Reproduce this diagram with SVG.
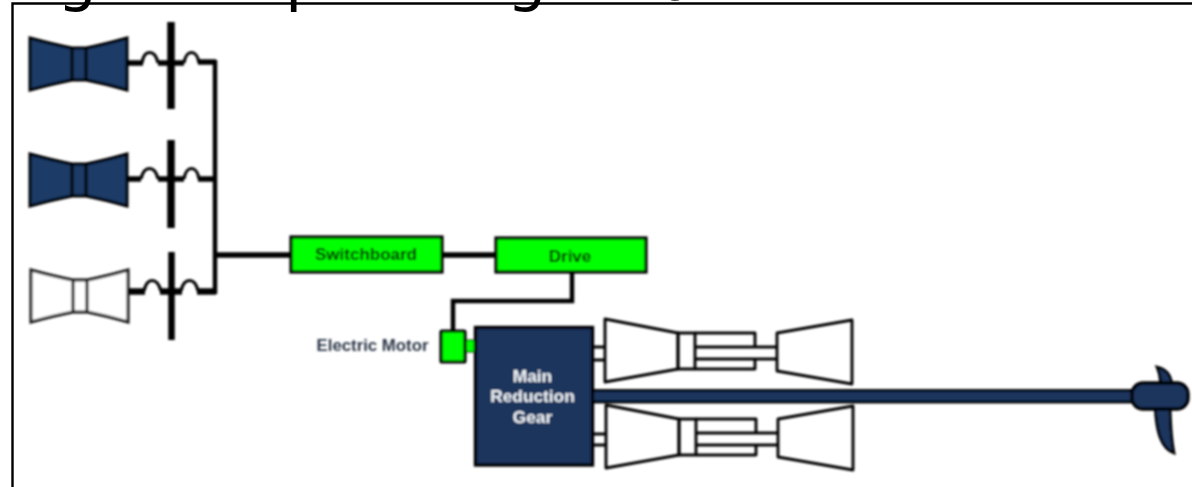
<svg xmlns="http://www.w3.org/2000/svg" width="1192" height="487" viewBox="0 0 1192 487">
<defs>
<filter id="soft" x="-2%" y="-2%" width="104%" height="104%"><feGaussianBlur stdDeviation="0.8"/></filter>
<g id="turbine"><path d="M0 0Q24 6.500 42 10H56Q74 6.500 97 0V52Q74 45.500 56 42H42Q24 45.500 0 52Z"/><path d="M42 10V42M56 10V42" class="waist"/></g>
<g id="gt"><path d="M0 0L73 14V50L0 63Z"/><path d="M73 14H90V50H73Z"/><path d="M90 14H150V28M150 40V50H90"/><path d="M90 28H172M90 40H172"/><path d="M172 14L247 1V65L172 52Z"/></g>
</defs>
<style>
.title{font-family:"DejaVu Sans",sans-serif;font-size:62px;fill:#000}
.lbl{font-family:"Liberation Sans",Arial,sans-serif;font-weight:700;text-anchor:middle}
.wire{fill:none;stroke:#000;stroke-width:4.500}
.thick{fill:none;stroke:#000;stroke-width:5.500}
.hump{fill:none;stroke:#000;stroke-width:3.200}
.bus{stroke:#000;stroke-width:7.500;fill:none}
.tb{fill:#1a3a66;stroke:#000;stroke-width:3}
.tb .waist{fill:none;stroke-width:3.800}
.tw{fill:#fff;stroke:#1c1c1c;stroke-width:3}
.tw .waist{fill:none}
.gp{fill:none;stroke:#000;stroke-width:2.900;stroke-linejoin:round}
.green{fill:#00ff00;stroke:#000;stroke-width:3.200}
.navy{fill:#1a365d;stroke:#000;stroke-width:3.400}
</style>
<text class="title" x="-21" y="-1">Regular Operating Mode</text>
<path id="frame" d="M12.500 487V3.500H1192" fill="none" stroke="#000" stroke-width="2.400"/>
<g filter="url(#soft)">
<g id="connectors">
<path class="thick" d="M127 63H143M158 63H184M198 62H216"/>
<path class="hump" d="M142 63C144 49 155 49 158 63M184 63C186 49 197 49 199 63"/>
<path class="thick" d="M127 179H141M158 179H184M198 179H216"/>
<path class="hump" d="M141 179C144 165 155 165 158 179M184 179C186 165 197 165 199 179"/>
<path class="thick" style="stroke-width:6.500" d="M129 291.500H145M160 291.500H182M197 291.500H216"/>
<path class="hump" d="M144 291C147 277 157 277 161 291M181 291C184 277 195 277 198 291"/>
<path class="wire" d="M215 60V294"/>
<path class="thick" d="M215 255H291M442 255H496"/>
<path class="wire" d="M572 272V301H453V331"/>
</g>
<g id="bus-1"><path class="bus" d="M171 22V109"/></g>
<g id="bus-2"><path class="bus" d="M171 140V228"/></g>
<g id="bus-3"><path class="bus" style="stroke-width:6.500" d="M171.500 252V340"/></g>
<g id="turbine-1" class="tb"><use href="#turbine" x="30" y="38"/></g>
<g id="turbine-2" class="tb"><use href="#turbine" x="30" y="154"/></g>
<g id="turbine-3" class="tw"><use href="#turbine" x="31" y="270"/></g>
<g id="switchboard"><rect class="green" x="291" y="237" width="151" height="35"/><text class="lbl" x="366" y="260" font-size="17" fill="#001a00">Switchboard</text></g>
<g id="drive"><rect class="green" x="496" y="238" width="150" height="34"/><text class="lbl" x="570" y="262" font-size="17" fill="#001a00">Drive</text></g>
<g id="electric-motor"><rect class="green" x="465" y="340" width="10" height="12" style="stroke-width:1"/><rect class="green" x="441" y="331" width="24" height="31" rx="1"/><text class="lbl" x="372.500" y="351" font-size="16.800" fill="#2c3646">Electric Motor</text></g>
<g id="gas-turbine-1" class="gp"><path d="M593 347H605M593 360H605"/><use href="#gt" x="605" y="319"/></g>
<g id="gas-turbine-2" class="gp"><path d="M593 434H606M593 445H606"/><use href="#gt" x="606" y="405"/></g>
<g id="shaft"><rect class="navy" style="stroke-width:2.800" x="590" y="390.500" width="548" height="11.500"/></g>
<g id="main-reduction-gear"><rect class="navy" x="475.500" y="327.500" width="117" height="137.500"/><g class="lbl" font-size="17.300" fill="#f2f5f8"><text x="532.500" y="382">Main</text><text x="532.500" y="402">Reduction</text><text x="532.500" y="423">Gear</text></g></g>
<g id="propeller"><path class="navy" style="stroke-width:2.800" d="M1157 367C1167 369 1174 376 1172 396H1160C1161 384 1161 376 1157 367Z"/><path class="navy" style="stroke-width:2.800" d="M1155 396H1170C1170 420 1171 438 1174 453C1163 449 1155 436 1155 396Z"/><rect class="navy" x="1132" y="383" width="56" height="26" rx="11"/></g>
</g>
</svg>
